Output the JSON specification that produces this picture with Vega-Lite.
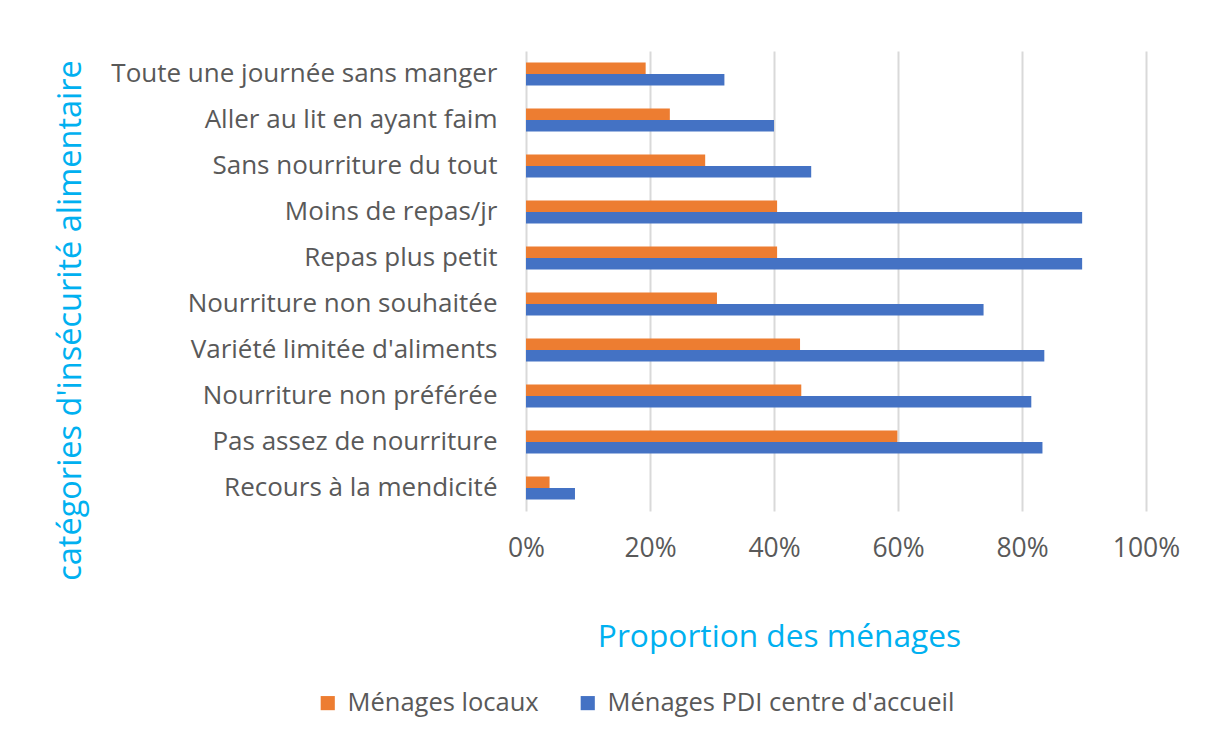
{
  "$schema": "https://vega.github.io/schema/vega-lite/v6.json",
  "width": 620,
  "height": 460,
  "autosize": {"type": "none"},
  "padding": {"left": 526, "top": 51, "right": 59, "bottom": 220},
  "background": "white",
  "config": {"view": {"stroke": null}, "font": "Open Sans"},
  "data": {
    "values": [
      {"categorie": "Toute une journée sans manger", "serie": "Ménages locaux", "valeur": 0.193},
      {"categorie": "Toute une journée sans manger", "serie": "Ménages PDI centre d'accueil", "valeur": 0.32},
      {"categorie": "Aller au lit en ayant faim", "serie": "Ménages locaux", "valeur": 0.232},
      {"categorie": "Aller au lit en ayant faim", "serie": "Ménages PDI centre d'accueil", "valeur": 0.40},
      {"categorie": "Sans nourriture du tout", "serie": "Ménages locaux", "valeur": 0.289},
      {"categorie": "Sans nourriture du tout", "serie": "Ménages PDI centre d'accueil", "valeur": 0.46},
      {"categorie": "Moins de repas/jr", "serie": "Ménages locaux", "valeur": 0.405},
      {"categorie": "Moins de repas/jr", "serie": "Ménages PDI centre d'accueil", "valeur": 0.897},
      {"categorie": "Repas plus petit", "serie": "Ménages locaux", "valeur": 0.405},
      {"categorie": "Repas plus petit", "serie": "Ménages PDI centre d'accueil", "valeur": 0.897},
      {"categorie": "Nourriture non souhaitée", "serie": "Ménages locaux", "valeur": 0.308},
      {"categorie": "Nourriture non souhaitée", "serie": "Ménages PDI centre d'accueil", "valeur": 0.738},
      {"categorie": "Variété limitée d'aliments", "serie": "Ménages locaux", "valeur": 0.442},
      {"categorie": "Variété limitée d'aliments", "serie": "Ménages PDI centre d'accueil", "valeur": 0.836},
      {"categorie": "Nourriture non préférée", "serie": "Ménages locaux", "valeur": 0.444},
      {"categorie": "Nourriture non préférée", "serie": "Ménages PDI centre d'accueil", "valeur": 0.815},
      {"categorie": "Pas assez de nourriture", "serie": "Ménages locaux", "valeur": 0.599},
      {"categorie": "Pas assez de nourriture", "serie": "Ménages PDI centre d'accueil", "valeur": 0.833},
      {"categorie": "Recours à la mendicité", "serie": "Ménages locaux", "valeur": 0.038},
      {"categorie": "Recours à la mendicité", "serie": "Ménages PDI centre d'accueil", "valeur": 0.079}
    ]
  },
  "mark": {"type": "bar"},
  "encoding": {
    "y": {
      "field": "categorie",
      "type": "nominal",
      "sort": ["Toute une journée sans manger", "Aller au lit en ayant faim", "Sans nourriture du tout", "Moins de repas/jr", "Repas plus petit", "Nourriture non souhaitée", "Variété limitée d'aliments", "Nourriture non préférée", "Pas assez de nourriture", "Recours à la mendicité"],
      "scale": {"paddingInner": 0.5, "paddingOuter": 0.25},
      "axis": {
        "title": "catégories d'insécurité alimentaire",
        "titleColor": "#00b0f0",
        "titleFontSize": 32.5,
        "titleFontWeight": "normal",
        "titleAngle": 270,
        "titleX": -456,
        "titleY": 269,
        "titleAlign": "center",
        "titleBaseline": "middle",
        "labelFontSize": 26,
        "labelColor": "#595959",
        "labelPadding": 29,
        "labelLimit": 0,
        "domain": false,
        "ticks": false,
        "grid": false
      }
    },
    "yOffset": {
      "field": "serie",
      "sort": ["Ménages locaux", "Ménages PDI centre d'accueil"],
      "scale": {"paddingInner": 0, "paddingOuter": 0}
    },
    "x": {
      "field": "valeur",
      "type": "quantitative",
      "scale": {"domain": [0, 1]},
      "axis": {
        "format": ".0%",
        "values": [0, 0.2, 0.4, 0.6, 0.8, 1],
        "grid": true,
        "gridColor": "#d9d9d9",
        "gridWidth": 2,
        "domain": false,
        "ticks": false,
        "labelFlush": false,
        "labelFontSize": 26.5,
        "labelColor": "#595959",
        "labelPadding": 24,
        "title": "Proportion des ménages",
        "titleColor": "#00b0f0",
        "titleFontSize": 31.7,
        "titleFontWeight": "normal",
        "titleX": 253,
        "titleY": 125,
        "titleAlign": "center",
        "titleBaseline": "middle"
      }
    },
    "color": {
      "field": "serie",
      "type": "nominal",
      "scale": {"domain": ["Ménages locaux", "Ménages PDI centre d'accueil"], "range": ["#ed7d31", "#4472c4"]},
      "legend": {
        "orient": "none",
        "legendX": -211,
        "legendY": 639,
        "direction": "horizontal",
        "title": null,
        "padding": 0,
        "symbolType": "square",
        "symbolSize": 200,
        "symbolStrokeWidth": 0,
        "labelFontSize": 25.5,
        "labelColor": "#595959",
        "labelOffset": 7,
        "columnPadding": 36,
        "labelLimit": 0
      }
    }
  }
}
